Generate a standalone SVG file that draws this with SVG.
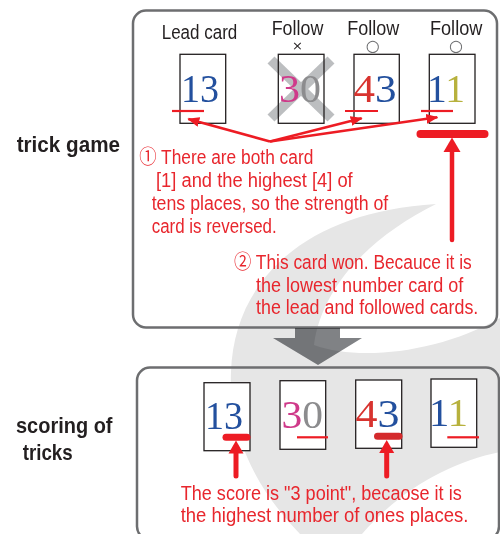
<svg xmlns="http://www.w3.org/2000/svg" width="500" height="534" viewBox="0 0 500 534">
<defs>
<style>
.sans{font-family:"Liberation Sans Narrow","Liberation Sans","Noto Sans CJK JP",sans-serif}
.lbl{font-weight:bold;font-size:22px;fill:#231f20}
.hdr{font-size:20px;fill:#231f20}
.note{font-size:20px;fill:#e8262d}
.num{font-family:"Liberation Serif",serif;font-size:40px}
.card{fill:#fff;stroke:#231f20;stroke-width:1.3}
.outline{fill:none;stroke:#231f20;stroke-width:1.3}
.box{fill:none;stroke:#6d6e70;stroke-width:2.5}
.red{stroke:#ed1c24;fill:none}
.b{fill:#23509e}.m{fill:#cf3a8a}.g{fill:#8c8c8e}.r{fill:#d8332f}.o{fill:#b7b13d}
</style>
<marker id="ah" markerUnits="userSpaceOnUse" markerWidth="12" markerHeight="10" refX="11" refY="5" orient="auto">
<path d="M0,0 L12,5 L0,10 Z" fill="#ed1c24"/>
</marker>
</defs>
<rect width="500" height="534" fill="#fff"/>
<path id="watermark" d="M436,204 C305,212 234,280 231,372 C228,440 262,495 300,534 L362,534 C400,490 450,462 500,452 L500,318 C440,352 360,362 314,345 C322,285 372,236 436,204 Z" fill="#e6e6e6"/>

<g id="boxes">
<rect class="box" x="133" y="10.5" width="364" height="317" rx="13"/>
<rect class="box" x="137" y="367.5" width="362" height="172" rx="13"/>
</g>

<g id="flow-arrow">
<polygon points="295,328 340,328 340,338 362,338 318,365 273,338 295,338" fill="#808285" style="mix-blend-mode:multiply"/>
</g>

<g id="labels" class="sans lbl">
<text x="16.7" y="152" textLength="103.3" lengthAdjust="spacingAndGlyphs">trick game</text>
<text x="16" y="432.5" textLength="96.5" lengthAdjust="spacingAndGlyphs">scoring of</text>
<text x="22.7" y="460" textLength="50" lengthAdjust="spacingAndGlyphs">tricks</text>
</g>

<g id="headers" class="sans hdr">
<text x="161.7" y="39" textLength="75.6" lengthAdjust="spacingAndGlyphs">Lead card</text>
<text x="271.7" y="35" textLength="51.6" lengthAdjust="spacingAndGlyphs">Follow</text>
<text x="347.3" y="35" textLength="52" lengthAdjust="spacingAndGlyphs">Follow</text>
<text x="430" y="35" textLength="52.3" lengthAdjust="spacingAndGlyphs">Follow</text>
<text x="297.5" y="50" font-size="13" text-anchor="middle" style="font-family:'DejaVu Sans',sans-serif" fill="#231f20">×</text>
<text x="372.7" y="51" font-size="16" text-anchor="middle" style="font-family:'DejaVu Sans',sans-serif" fill="#6d6e70">○</text>
<text x="456" y="51" font-size="16" text-anchor="middle" style="font-family:'DejaVu Sans',sans-serif" fill="#6d6e70">○</text>
</g>

<g id="trick-cards">
<g id="t-card-13">
<rect class="card" x="180" y="54.3" width="45.7" height="69"/>
<text class="num" x="181" y="101.5" textLength="38" lengthAdjust="spacingAndGlyphs"><tspan class="b">1</tspan><tspan class="b">3</tspan></text>
</g>
<g id="t-card-30">
<rect x="278.3" y="54.3" width="45.7" height="69" fill="#fff"/>
<g stroke="#bcbec0" stroke-width="10">
<line x1="271" y1="60" x2="331" y2="118"/>
<line x1="331" y1="60" x2="271" y2="118"/>
</g>
<rect class="outline" x="278.3" y="54.3" width="45.7" height="69"/>
<text class="num" x="279" y="101.5" textLength="42" lengthAdjust="spacingAndGlyphs"><tspan class="m">3</tspan><tspan class="g">0</tspan></text>
</g>
<g id="t-card-43">
<rect class="card" x="354" y="54.3" width="45.3" height="69"/>
<text class="num" x="353.5" y="101.5" textLength="43" lengthAdjust="spacingAndGlyphs"><tspan class="r">4</tspan><tspan class="b">3</tspan></text>
</g>
<g id="t-card-11">
<rect class="card" x="429.3" y="54.3" width="45.7" height="69"/>
<text class="num" x="427" y="101.5" textLength="38" lengthAdjust="spacingAndGlyphs"><tspan class="b">1</tspan><tspan class="o">1</tspan></text>
</g>
</g>

<g id="score-cards">
<g id="s-card-13">
<rect class="card" x="204" y="382.7" width="46" height="68"/>
<text class="num" x="205" y="429" textLength="38" lengthAdjust="spacingAndGlyphs"><tspan class="b">1</tspan><tspan class="b">3</tspan></text>
</g>
<g id="s-card-30">
<rect class="card" x="280" y="380.7" width="45.7" height="68.6"/>
<text class="num" x="281.5" y="428" textLength="41.5" lengthAdjust="spacingAndGlyphs"><tspan class="m">3</tspan><tspan class="g">0</tspan></text>
</g>
<g id="s-card-43">
<rect class="card" x="355.7" y="380" width="46" height="68.3"/>
<text class="num" x="355.5" y="427" textLength="44" lengthAdjust="spacingAndGlyphs"><tspan class="r">4</tspan><tspan class="b">3</tspan></text>
</g>
<g id="s-card-11">
<rect class="card" x="431" y="379" width="45.7" height="68.3"/>
<text class="num" x="429" y="426" textLength="39" lengthAdjust="spacingAndGlyphs"><tspan class="b">1</tspan><tspan class="o">1</tspan></text>
</g>
</g>

<g id="connectors">
<g class="red" stroke-width="2.2">
<line x1="172" y1="111" x2="204" y2="111"/>
<line x1="345" y1="111" x2="378" y2="111"/>
<line x1="421" y1="111" x2="453" y2="111"/>
<line x1="297" y1="437.3" x2="328" y2="437.3"/>
<line x1="447.3" y1="437.3" x2="479" y2="437.3"/>
</g>
<g class="red" stroke-width="2.5" marker-end="url(#ah)">
<line x1="270" y1="141.5" x2="188.3" y2="119"/>
<line x1="270" y1="141.5" x2="361.7" y2="118.3"/>
<line x1="270" y1="141.5" x2="437.3" y2="117.3"/>
</g>
<line class="red" x1="420.5" y1="134" x2="484.5" y2="134" stroke-width="8" stroke-linecap="round"/>
<line class="red" x1="452" y1="150" x2="452" y2="240" stroke-width="4.5" stroke-linecap="round"/>
<polygon points="452,137.5 443.5,152 460.5,152" fill="#ed1c24"/>

<line class="red" x1="226" y1="437.3" x2="247" y2="437.3" stroke-width="7" stroke-linecap="round"/>
<line class="red" x1="236" y1="452" x2="236" y2="476" stroke-width="5" stroke-linecap="round"/>
<polygon points="236,440.5 228.5,453.5 243.5,453.5" fill="#ed1c24"/>
<line x1="377.5" y1="436.3" x2="399" y2="436.3" stroke="#d42a2c" stroke-width="7" stroke-linecap="round"/>
<line class="red" x1="386.7" y1="452" x2="386.7" y2="476" stroke-width="5" stroke-linecap="round"/>
<polygon points="386.7,440 379.2,453 394.2,453" fill="#ed1c24"/>
</g>

<g id="note-1" class="sans note">
<text x="139.3" y="163.5" textLength="174" lengthAdjust="spacingAndGlyphs">① There are both card</text>
<text x="156" y="187" textLength="196.7" lengthAdjust="spacingAndGlyphs">[1] and the highest [4] of</text>
<text x="151.7" y="210" textLength="236.6" lengthAdjust="spacingAndGlyphs">tens places, so the strength of</text>
<text x="151.7" y="233" textLength="125" lengthAdjust="spacingAndGlyphs">card is reversed.</text>
</g>
<g id="note-2" class="sans note">
<text x="234" y="269" textLength="237.7" lengthAdjust="spacingAndGlyphs">② This card won. Becauce it is</text>
<text x="256" y="291.7" textLength="207.3" lengthAdjust="spacingAndGlyphs">the lowest number card of</text>
<text x="256" y="314.3" textLength="222.3" lengthAdjust="spacingAndGlyphs">the lead and followed cards.</text>
</g>
<g id="note-3" class="sans note">
<text x="180.7" y="500" textLength="281" lengthAdjust="spacingAndGlyphs">The score is "3 point", becaose it is</text>
<text x="180.7" y="522.3" textLength="287.6" lengthAdjust="spacingAndGlyphs">the highest number of ones places.</text>
</g>
</svg>
